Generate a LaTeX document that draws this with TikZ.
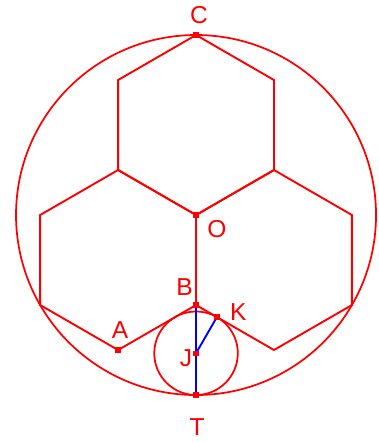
\documentclass[tikz,border=0pt]{standalone}
\usepackage{fontspec}
\setmainfont{Liberation Sans}
\usetikzlibrary{calc}
\tikzset{
  ring/.style={red,line width=1.1pt},                  % circles
  hexline/.style={red,line width=1.2pt,line join=miter},% hexagon sides
  seg/.style={blue,line width=1.2pt},                  % radii BT, JK
  dot/.style={rectangle,fill=red,inner sep=0pt,minimum size=3.4pt},
  lbl/.style={text=red,inner sep=0pt,font=\fontsize{15.5}{18}\selectfont},
}
\begin{document}
\begin{tikzpicture}[x=2cm,y=2cm]
  \useasboundingbox (-2.178,-2.522) rectangle (2.022,2.389);
  % marked points (hexagon side = 1, O at centre)
  \coordinate (O) at (0,0);
  \coordinate (C) at (0,2);
  \coordinate (B) at (0,-1);
  \coordinate (T) at (0,-2);
  \coordinate (A) at (-0.8660,-1.5);
  \coordinate (J) at (0,-1.5359);
  \coordinate (K) at (0.2321,-1.1340);
  % other corners
  \coordinate (tr1) at (0.8660,1.5); \coordinate (tr2) at (0.8660,0.5);
  \coordinate (tl1) at (-0.8660,1.5); \coordinate (tl2) at (-0.8660,0.5);
  \coordinate (l1) at (-1.7321,0); \coordinate (l2) at (-1.7321,-1);
  \coordinate (r1) at (1.7321,0); \coordinate (r2) at (1.7321,-1);
  \coordinate (r3) at (0.8660,-1.5);
  % big circle and three hexagons
  \draw[ring] (O) circle (2);
  \draw[hexline] (C) -- (tr1) -- (tr2) -- (O) -- (tl2) -- (tl1) -- cycle;
  \draw[hexline] (O) -- (tl2) -- (l1) -- (l2) -- (A) -- (B) -- cycle;
  \draw[hexline] (O) -- (tr2) -- (r1) -- (r2) -- (r3) -- (B);
  % small circle
  \draw[ring] (J) circle (0.4641);
  \draw[seg] (B) -- (T);
  \draw[seg] (J) -- (K);
  \foreach \p in {C,O,B,K,J,T,A} \node[dot] (d\p) at (\p) {};
  % labels
  \node[lbl] (lC) at ($(C)+(0.033,0.222)$) {C};
  \node[lbl] (lO) at ($(O)+(0.233,-0.156)$) {O};
  \node[lbl] (lB) at ($(B)+(-0.128,0.194)$) {B};
  \node[lbl] (lK) at ($(K)+(0.239,0.061)$) {K};
  \node[lbl] (lA) at ($(A)+(0.022,0.222)$) {A};
  \node[lbl] (lJ) at ($(J)+(-0.11,-0.06)$) {J};
  \node[lbl] (lT) at ($(T)+(0.011,-0.356)$) {T};
\end{tikzpicture}
\end{document}
